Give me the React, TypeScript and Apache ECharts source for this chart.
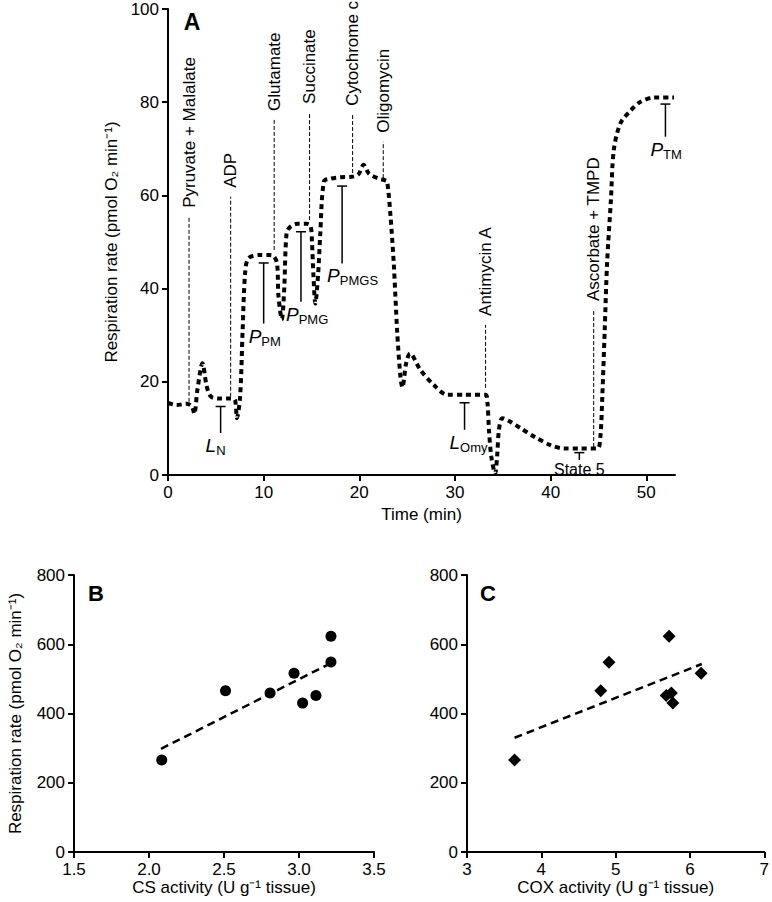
import React, { useEffect, useRef } from "react";
import * as echarts from "echarts";

const FONT = "'Liberation Sans', Arial, Helvetica, sans-serif";

// Panel A: respiration trace (time in min, rate in pmol O2 min^-1)
const traceTime = [
  0, 0.9, 1.96, 2.5, 2.75, 3.07, 3.6, 4.05, 4.5, 5.5,
  6.5, 7.0, 7.2, 7.54, 7.8, 8.06, 8.4, 9.5, 10.5, 11.03,
  11.4, 11.55, 11.9, 12.15, 12.4, 12.8, 13.5, 14.5, 14.9, 15.05,
  15.2, 15.4, 15.7, 15.9, 16.3, 17.0, 18.0, 19.2, 19.9, 20.45,
  21.0, 22.0, 22.6, 22.9, 23.25, 23.6, 23.95, 24.3, 24.5, 24.9,
  25.3, 26.4, 27.8, 29.2, 31.0, 33.2, 33.4, 33.55, 33.8, 34.2,
  34.4, 34.6, 34.95, 35.8, 36.9, 38.3, 40.0, 41.4, 43.0, 44.9,
  45.2, 45.4, 45.65, 45.9, 46.3, 46.6, 47.3, 48.4, 49.4, 50.8,
  52.9,
];
const traceRate = [
  15.5, 15.0, 15.3, 14.7, 13.1, 18.2, 24.0, 19.0, 16.8, 16.4,
  16.4, 16.1, 12.2, 16.8, 31.0, 43.3, 46.5, 47.2, 47.2, 47.0,
  45.4, 38.3, 33.4, 40.0, 52.0, 53.3, 53.9, 53.9, 53.5, 50.0,
  43.0, 36.8, 43.3, 51.0, 63.0, 63.6, 63.9, 64.0, 64.5, 66.6,
  64.7, 63.6, 63.3, 63.0, 55.8, 45.4, 31.0, 21.0, 18.8, 24.0,
  26.1, 22.5, 19.3, 17.2, 17.2, 17.2, 15.4, 9.7, 3.9, 0.3,
  3.9, 9.7, 12.2, 11.4, 10.0, 8.2, 6.4, 5.7, 5.7, 5.7,
  8.2, 16.8, 31.0, 45.4, 59.0, 69.7, 75.5, 78.3, 80.1, 81.0,
  81.0,
];
const timeTicks = [0, 10, 20, 30, 40, 50];

// Injections (dashed markers)
const injectionNames = [
  "Pyruvate + Malalate", "ADP", "Glutamate", "Succinate",
  "Cytochrome c", "Oligomycin", "Antimycin A", "Ascorbate + TMPD",
];
const injectionTime = [2.2, 6.55, 11.1, 14.8, 19.3, 22.5, 33.2, 44.5];
const injectionTop = [55.4, 59.7, 76.2, 77.7, 77.3, 71.5, 32.2, 35.4];
const injectionBottom = [15.7, 16.8, 48.3, 54.7, 64.8, 63.7, 18.7, 6.0];

// Respiratory states (T-bar markers)
const stateSymbol = ["L", "P", "P", "P", "L", "State 5", "P"];
const stateSub = ["N", "PM", "PMG", "PMGS", "Omy", "", "TM"];
const stateTime = [5.5, 10.0, 13.9, 18.2, 31.0, 43.0, 52.0];
const stateTop = [14.7, 45.5, 52.2, 62.0, 15.5, 4.8, 79.6];
const stateBottom = [9.0, 32.5, 37.2, 45.4, 9.7, 3.2, 72.6];

// Panel B: CS activity vs respiration
const csActivity = [2.085, 2.51, 2.807, 2.967, 3.024, 3.113, 3.213, 3.213];
const csRespiration = [266, 466, 459, 516, 430, 452, 623, 549];
const csFitX = [2.08, 3.22];
const csFitY = [298, 547];

// Panel C: COX activity vs respiration
const coxActivity = [3.64, 4.8, 4.91, 5.72, 5.68, 5.75, 5.77, 6.15];
const coxRespiration = [266, 466, 548, 623, 452, 459, 430, 516];
const coxFitX = [3.64, 6.16];
const coxFitY = [330, 543];

const FS = 17;
const axisLine = { lineStyle: { color: "#000", width: 2 } };
const axisTick = { length: 6, lineStyle: { color: "#000", width: 2 } };
const axisLabel = { color: "#000", fontSize: FS, fontFamily: FONT, margin: 9 };
const nameStyle = { color: "#000", fontSize: FS, fontFamily: FONT };
const RESP_NAME = "Respiration rate (pmol O\u2082 min\u207B\u00B9)";

export default function App() {
  const ref = useRef<HTMLDivElement>(null);

  useEffect(() => {
    if (!ref.current) return;
    const chart = echarts.init(ref.current, undefined, { renderer: "svg" });

    const trace = traceTime.map((t, i) => [t, traceRate[i]]);
    const injections = injectionTime.map((t, i) => [t, injectionTop[i], injectionBottom[i]]);
    const states = stateTime.map((t, i) => [t, stateTop[i], stateBottom[i]]);

    const option: any = {
      animation: false,
      backgroundColor: "#fff",
      grid: [
        { left: 168, top: 9, width: 507, height: 466 },
        { left: 74, top: 575, width: 300, height: 277 },
        { left: 467, top: 575, width: 299, height: 277 },
      ],
      xAxis: [
        {
          gridIndex: 0, type: "value", min: 0, max: 53, interval: 10,
          axisLine,
          axisTick: { ...axisTick, customValues: timeTicks },
          axisLabel: { ...axisLabel, customValues: timeTicks },
          splitLine: { show: false },
          name: "Time (min)", nameLocation: "middle", nameGap: 30, nameTextStyle: nameStyle,
        },
        {
          gridIndex: 1, type: "value", min: 1.5, max: 3.5, interval: 0.5,
          axisLine, axisTick,
          axisLabel: { ...axisLabel, formatter: (v: number) => v.toFixed(1) },
          splitLine: { show: false },
          name: "CS activity (U g\u207B\u00B9 tissue)", nameLocation: "middle", nameGap: 24,
          nameTextStyle: nameStyle,
        },
        {
          gridIndex: 2, type: "value", min: 3, max: 7, interval: 1,
          axisLine, axisTick, axisLabel, splitLine: { show: false },
          name: "COX activity (U g\u207B\u00B9 tissue)", nameLocation: "middle", nameGap: 24,
          nameTextStyle: nameStyle,
        },
      ],
      yAxis: [
        {
          gridIndex: 0, type: "value", min: 0, max: 100, interval: 20,
          axisLine, axisTick, axisLabel, splitLine: { show: false },
          name: RESP_NAME, nameLocation: "middle", nameGap: 45, nameTextStyle: nameStyle,
        },
        {
          gridIndex: 1, type: "value", min: 0, max: 800, interval: 200,
          axisLine, axisTick, axisLabel, splitLine: { show: false },
          name: RESP_NAME, nameLocation: "middle", nameGap: 50, nameTextStyle: nameStyle,
        },
        {
          gridIndex: 2, type: "value", min: 0, max: 800, interval: 200,
          axisLine, axisTick, axisLabel, splitLine: { show: false },
        },
      ],
      graphic: [
        { type: "text", x: 192, y: 22, style: { text: "A", fontSize: 23, fontWeight: "bold", fontFamily: FONT, fill: "#000", align: "center", verticalAlign: "middle" } },
        { type: "text", x: 96, y: 593, style: { text: "B", fontSize: 22, fontWeight: "bold", fontFamily: FONT, fill: "#000", align: "center", verticalAlign: "middle" } },
        { type: "text", x: 488, y: 593, style: { text: "C", fontSize: 22, fontWeight: "bold", fontFamily: FONT, fill: "#000", align: "center", verticalAlign: "middle" } },
      ],
      series: [
        {
          type: "line", xAxisIndex: 0, yAxisIndex: 0, data: trace,
          symbol: "none", smooth: 0.3,
          lineStyle: { color: "#000", width: 4, type: [5, 4] },
          z: 3,
        },
        {
          type: "custom", xAxisIndex: 0, yAxisIndex: 0, data: injections,
          encode: { x: 0, y: [1, 2] },
          renderItem: (params: any, api: any) => {
            const i = params.dataIndex;
            const top = api.coord([api.value(0), api.value(1)]);
            const bot = api.coord([api.value(0), api.value(2)]);
            return {
              type: "group",
              children: [
                {
                  type: "line",
                  shape: { x1: bot[0], y1: bot[1], x2: top[0], y2: top[1] },
                  style: { stroke: "#000", lineWidth: 1, lineDash: [4, 2] },
                },
                {
                  type: "text", x: top[0], y: top[1] - 9, rotation: Math.PI / 2,
                  style: {
                    text: injectionNames[i], fontSize: FS, fontFamily: FONT, fill: "#000",
                    align: "left", verticalAlign: "middle",
                  },
                },
              ],
            };
          },
          z: 2,
        },
        {
          type: "custom", xAxisIndex: 0, yAxisIndex: 0, data: states,
          encode: { x: 0, y: [1, 2] },
          renderItem: (params: any, api: any) => {
            const i = params.dataIndex;
            const top = api.coord([api.value(0), api.value(1)]);
            const bot = api.coord([api.value(0), api.value(2)]);
            const sub = stateSub[i];
            const text = sub ? `{i|${stateSymbol[i]}}{s|${sub}}` : `{n|${stateSymbol[i]}}`;
            return {
              type: "group",
              children: [
                {
                  type: "line",
                  shape: { x1: top[0], y1: top[1], x2: bot[0], y2: bot[1] },
                  style: { stroke: "#000", lineWidth: 1.5 },
                },
                {
                  type: "line",
                  shape: { x1: top[0] - 5, y1: top[1], x2: top[0] + 5, y2: top[1] },
                  style: { stroke: "#000", lineWidth: 1.5 },
                },
                {
                  type: "text", x: sub ? bot[0] - 15 : bot[0], y: bot[1] + 1,
                  style: {
                    text,
                    align: sub ? "left" : "center",
                    verticalAlign: "top",
                    fill: "#000",
                    fontFamily: FONT,
                    fontSize: FS,
                    rich: {
                      i: { fontSize: 19, fontStyle: "italic", fontFamily: FONT, fill: "#000" },
                      s: { fontSize: 13, fontFamily: FONT, fill: "#000", padding: [10, 0, 0, 0] },
                      n: { fontSize: 16, fontFamily: FONT, fill: "#000" },
                    },
                  },
                },
              ],
            };
          },
          z: 2,
        },
        {
          type: "scatter", xAxisIndex: 1, yAxisIndex: 1,
          data: csActivity.map((x, i) => [x, csRespiration[i]]),
          symbol: "circle", symbolSize: 11, itemStyle: { color: "#000", opacity: 1 },
        },
        {
          type: "line", xAxisIndex: 1, yAxisIndex: 1,
          data: csFitX.map((x, i) => [x, csFitY[i]]),
          symbol: "none", lineStyle: { color: "#000", width: 2.5, type: [8, 5] },
        },
        {
          type: "scatter", xAxisIndex: 2, yAxisIndex: 2,
          data: coxActivity.map((x, i) => [x, coxRespiration[i]]),
          symbol: "diamond", symbolSize: 13, itemStyle: { color: "#000", opacity: 1 },
        },
        {
          type: "line", xAxisIndex: 2, yAxisIndex: 2,
          data: coxFitX.map((x, i) => [x, coxFitY[i]]),
          symbol: "none", lineStyle: { color: "#000", width: 2.5, type: [8, 5] },
        },
      ],
    };

    chart.setOption(option);
    return () => chart.dispose();
  }, []);

  return (
    <div
      ref={ref}
      style={{ position: "fixed", left: 0, top: 0, width: 772, height: 902, background: "#fff" }}
    />
  );
}
